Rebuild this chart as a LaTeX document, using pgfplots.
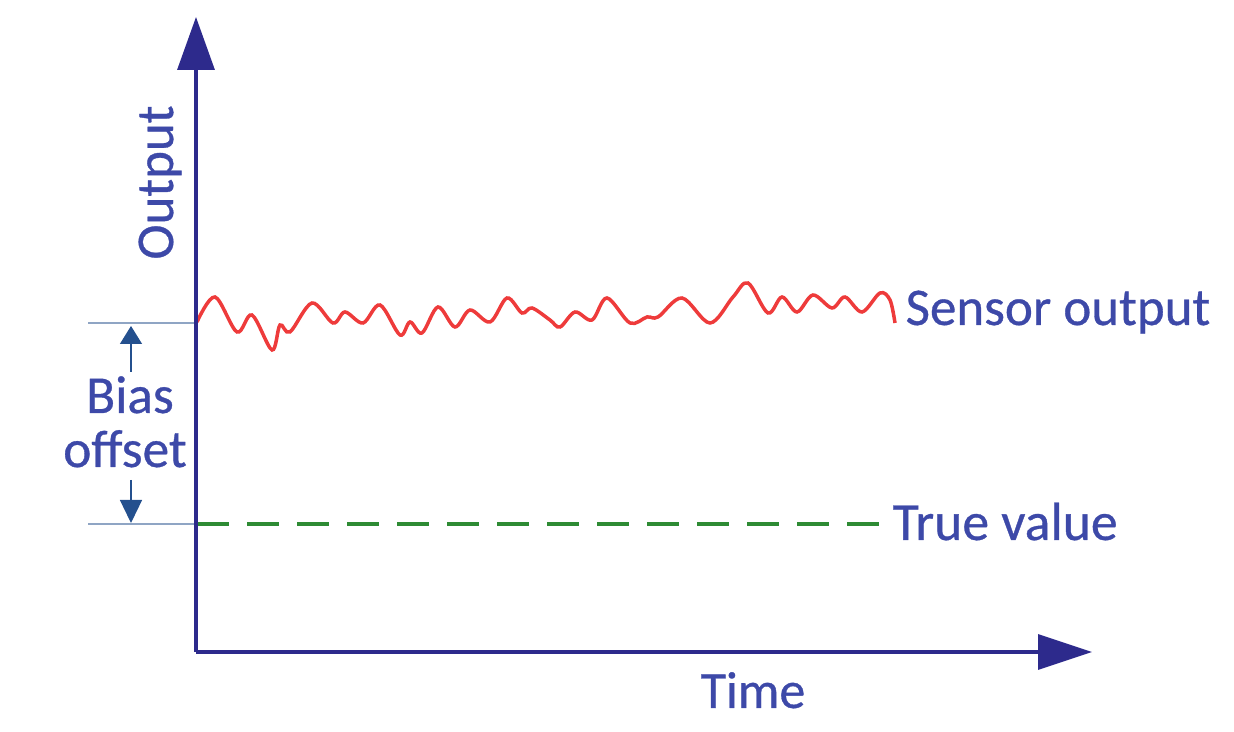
\documentclass[border=0pt]{standalone}
\usepackage{pgfplots}
\pgfplotsset{compat=1.18}
\usepackage{fontspec}
\setmainfont{Carlito}[FakeBold=0.6]
\newfontfamily\lbl{Carlito}[FakeBold=0.6]
\usetikzlibrary{arrows.meta}
\definecolor{axiscol}{HTML}{2D2A8C}
\definecolor{txtcol}{HTML}{3D49A8}
\definecolor{sensred}{HTML}{EE3B3B}
\definecolor{truegreen}{HTML}{2E8B34}
\definecolor{thincol}{HTML}{8FA5C4}
\definecolor{smallarr}{HTML}{24508E}
\begin{document}
\begin{tikzpicture}
\begin{axis}[
  scale only axis, width=370.2pt, height=219.6pt,
  xmin=-197, xmax=1037, ymin=-80, ymax=652,
  hide axis, clip=false,
]
% bounding box
\path (axis cs:-197,-80) rectangle (axis cs:1037,652);
% bias reference lines
\draw[thincol, line width=0.5pt] (axis cs:-109,329) -- (axis cs:0,329);
\draw[thincol, line width=0.5pt] (axis cs:-109,128) -- (axis cs:0,128);
\draw[smallarr, line width=0.4pt, -{Triangle[length=5.4pt,width=6.6pt]}] (axis cs:-66,280) -- (axis cs:-66,326);
\draw[smallarr, line width=0.4pt, -{Triangle[length=6.9pt,width=6.6pt]}] (axis cs:-66,172) -- (axis cs:-66,129);
% true value
\addplot[truegreen, line width=1.2pt, dash pattern=on 9.6pt off 5.4pt] coordinates {(0,128) (683,128)};
% sensor output
\addplot[sensred, line width=1.05pt, smooth, tension=0.55] coordinates {
(0,330) (18,355) (40,320) (55,337) (75,302) (83,327) (93,320) (115,349)
(136,329) (148,340) (166,329) (183,347) (203,317) (213,330) (225,319)
(241,345) (258,325) (273,342) (293,330) (310,354) (325,339) (335,344)
(353,332) (363,325) (378,340) (395,332) (410,354) (433,329) (450,335)
(461,335) (485,354) (513,329) (536,355) (551,369) (571,339) (585,355)
(600,340) (616,357) (635,344) (648,355) (665,340) (683,359) (693,352)
(698,329)};
% axes
\draw[axiscol, line width=1pt, -{Triangle[length=15.9pt,width=11.1pt]}] (axis cs:-1,0) -- (axis cs:-1,635);
\draw[axiscol, line width=1pt, -{Triangle[length=16.2pt,width=10.5pt]}] (axis cs:-1,0) -- (axis cs:895,0);
% texts
\node[txtcol, anchor=base west, inner sep=0pt, font=\lbl\fontsize{15.9}{18}\selectfont] at (axis cs:708,327) {Sensor output};
\node[txtcol, anchor=base west, inner sep=0pt, font=\lbl\fontsize{16.1}{18}\selectfont] at (axis cs:695,112) {True value};
\node[txtcol, anchor=base, inner sep=0pt, font=\lbl\fontsize{16}{18}\selectfont] at (axis cs:-67,239) {Bias};
\node[txtcol, anchor=base, inner sep=0pt, font=\lbl\fontsize{16}{18}\selectfont] at (axis cs:-72,185) {offset};
\node[txtcol, anchor=base west, inner sep=0pt, font=\lbl\fontsize{15.6}{18}\selectfont] at (axis cs:503,-56) {Time};
\node[txtcol, anchor=base, rotate=90, inner sep=0pt, font=\lbl\fontsize{15.9}{18}\selectfont] at (axis cs:-24,469.5) {Output};
\end{axis}
\end{tikzpicture}
\end{document}
